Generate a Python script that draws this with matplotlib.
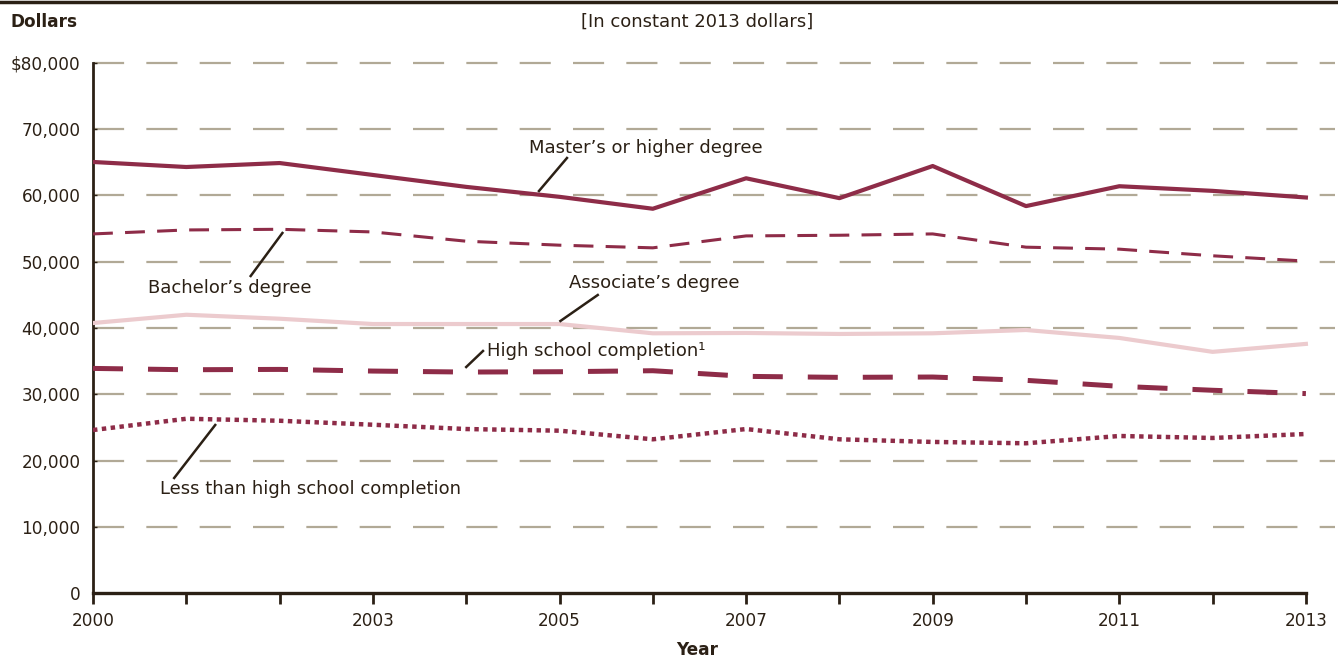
import matplotlib.pyplot as plt
from matplotlib.lines import Line2D

plt.rcParams['font.family'] = ['DejaVu Sans']

# data (constant 2013 dollars)
years = list(range(2000, 2014))
masters = [65060, 64300, 64900, 63100, 61300, 59800, 58000, 62600, 59600, 64450, 58400, 61400, 60700, 59700]
bachelors = [54200, 54800, 54900, 54500, 53100, 52500, 52100, 53900, 54000, 54200, 52200, 51900, 50900, 50100]
associates = [40750, 42000, 41400, 40600, 40600, 40600, 39200, 39250, 39100, 39200, 39700, 38500, 36400, 37600]
high_school = [33900, 33700, 33750, 33500, 33350, 33400, 33550, 32700, 32550, 32600, 32100, 31200, 30600, 30100]
less_than_hs = [24600, 26300, 26000, 25400, 24750, 24500, 23200, 24750, 23200, 22800, 22600, 23700, 23400, 24000]

x_ticks = [2000, 2001, 2002, 2003, 2004, 2005, 2006, 2007, 2008, 2009, 2010, 2011, 2012, 2013]
x_labels = ['2000', '', '', '2003', '', '2005', '', '2007', '', '2009', '', '2011', '', '2013']
y_ticks = [0, 10000, 20000, 30000, 40000, 50000, 60000, 70000, 80000]
y_labels = ['0', '10,000', '20,000', '30,000', '40,000', '50,000', '60,000', '70,000', '$80,000']

dark = '#2b2015'
maroon = '#8e2c48'
pink = '#eccbce'
grid_col = '#b1a996'
fs = 12.2    # ticks
fs_lab = 13  # labels

fig = plt.figure(figsize=(13.38, 6.63), dpi=100)
ax = fig.add_axes([93 / 1338, 1 - 593 / 663, (1335 - 93) / 1338, (593 - 63) / 663])

# gridlines
for v in y_ticks[1:]:
    ax.axhline(v, color=grid_col, lw=1.6, dashes=(14, 10), dash_capstyle='butt', zorder=1, clip_on=False)

ax.plot(years, less_than_hs, color=maroon, lw=3.2, dashes=(1.0, 1.0), dash_capstyle='butt', zorder=3)
ax.plot(years, high_school, color=maroon, lw=3.6, dashes=(6, 5), dash_capstyle='butt', zorder=3)
ax.plot(years, associates, color=pink, lw=3.0, zorder=3)
ax.plot(years, bachelors, color=maroon, lw=2.2, dashes=(6.5, 4), dash_capstyle='butt', zorder=3)
ax.plot(years, masters, color=maroon, lw=3.0, zorder=3)

ax.set_xlim(2000, 2000 + (1335 - 93) / 93.3)
ax.set_ylim(0, 80000)
ax.set_xticks(x_ticks)
ax.set_xticklabels(x_labels)
ax.set_yticks(y_ticks)
ax.set_yticklabels(y_labels)
ax.tick_params(axis='x', direction='out', length=8, width=2, color=dark, labelcolor=dark, labelsize=fs, pad=6)
ax.tick_params(axis='y', direction='in', length=3, width=1, color=dark, labelcolor=dark, labelsize=fs, pad=9)

for s in ['top', 'right']:
    ax.spines[s].set_visible(False)
ax.spines['left'].set_color(dark)
ax.spines['left'].set_linewidth(2)
ax.spines['bottom'].set_color(dark)
ax.spines['bottom'].set_linewidth(2.4)
ax.spines['bottom'].set_bounds(2000, 2013)

ax.set_xlabel('Year', fontsize=fs, fontweight='bold', color=dark, labelpad=4)
ax.xaxis.set_label_coords((697 - 93) / (1335 - 93), -0.09)

# labels with leader lines
labels = [
    ("Master\u2019s or higher degree", (2005.92, 67170), (2004.78, 60680), (2005.08, 65660), 'center'),
    ("Bachelor\u2019s degree", (2001.47, 46040), (2001.69, 47850), (2002.03, 54340), 'center'),
    ("Associate\u2019s degree", (2006.02, 46790), (2005.01, 41060), (2005.41, 44980), 'center'),
    ("High school completion\u00b9", (2004.22, 36530), (2004.0, 34110), (2004.18, 36530), 'left'),
    ("Less than high school completion", (2002.33, 15700), (2000.87, 17360), (2001.31, 25360), 'center'),
]
for txt, pos, p1, p2, ha in labels:
    ax.text(pos[0], pos[1], txt, ha=ha, va='center', fontsize=fs_lab, color=dark, zorder=5)
    ax.plot([p1[0], p2[0]], [p1[1], p2[1]], color=dark, lw=1.8, zorder=5)

fig.text(10 / 1338, 1 - 22 / 663, 'Dollars', ha='left', va='center', fontsize=fs, fontweight='bold', color=dark)
fig.text(697 / 1338, 1 - 22 / 663, '[In constant 2013 dollars]', ha='center', va='center', fontsize=fs_lab, color=dark)
fig.add_artist(Line2D([0, 1], [1 - 1.5 / 663, 1 - 1.5 / 663], transform=fig.transFigure, color=dark, lw=2.5))

fig.savefig('out.png', dpi=100)
